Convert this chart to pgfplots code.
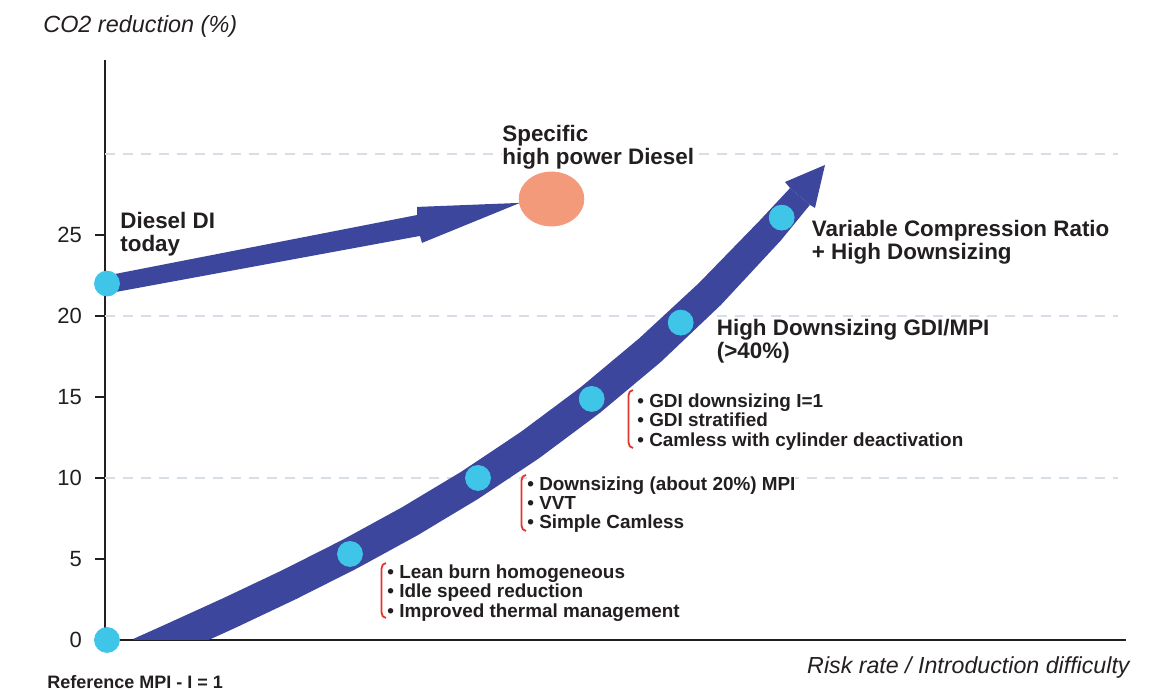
\documentclass[border=0pt]{standalone}
\usepackage{fontspec}
\setmainfont{Liberation Sans}
\usepackage{pgfplots}
\pgfplotsset{compat=1.18}
\definecolor{band}{HTML}{3B469C}
\definecolor{dot}{HTML}{3EC5E8}
\definecolor{orng}{HTML}{F39A7A}
\definecolor{brk}{HTML}{E2352B}
\definecolor{txt}{HTML}{231F20}
\definecolor{grd}{HTML}{D7DEE8}
\begin{document}
\begin{tikzpicture}[
  bignode/.style={anchor=north west, align=left, inner sep=0pt, text=txt,
    font=\fontsize{11.2}{11.5}\bfseries\selectfont},
  bulnode/.style={anchor=north west, align=left, inner sep=0pt, text=txt, fill=white,
    font=\fontsize{9.45}{9.6}\bfseries\selectfont}]
\useasboundingbox (-52.5pt,-25pt) rectangle (529.5pt,320pt);
\begin{axis}[at={(0pt,0pt)}, anchor=south west,
  width=510.5pt, height=290pt, scale only axis,
  xmin=105, xmax=1126, ymin=0, ymax=35.8,
  axis lines=left, axis line style={-, line width=1.4pt, draw=txt},
  xtick=\empty, ytick={0,5,10,15,20,25},
  tick align=outside, major tick length=5pt,
  tick style={line width=1.2pt, draw=txt},
  yticklabel style={font=\fontsize{11}{13}\selectfont, text=txt, xshift=-3pt},
  /pgf/number format/assume math mode=true,
  clip=true,
]
% dashed grid lines
\addplot[grd, line width=0.8pt, dash pattern=on 5pt off 4pt] coordinates {(105,10) (1118,10)};
\addplot[grd, line width=0.8pt, dash pattern=on 5pt off 4pt] coordinates {(105,20) (1118,20)};
\addplot[grd, line width=0.8pt, dash pattern=on 5pt off 4pt] coordinates {(105,30) (1118,30)};

% main curved band: upper edge forward, lower edge back
\addplot[fill=band, draw=none] coordinates {
 (133.47,0.071) (163.44,0.901) (223.28,2.582) (282.99,4.328) (342.58,6.185)
 (402.06,8.192) (461.45,10.395) (520.78,12.840) (580.09,15.570) (639.40,18.629)
 (699.08,22.042) (759.22,25.857) (790.09,27.896)
 (809.91,26.857) (780.78,24.659) (720.92,20.684) (660.60,17.150) (599.91,14.019)
 (539.22,11.225) (478.55,8.726) (417.94,6.477) (357.42,4.434) (297.01,2.553)
 (236.72,0.790) (176.56,-0.901) (146.53,-1.733)};
% arrow head of main band
\addplot[fill=band, draw=none] coordinates {
 (790.09,27.896) (785,28.27) (825,29.32) (815,26.67) (809.91,26.857)};

% Diesel arrow
\addplot[fill=band, draw=none] coordinates {
 (100,22.41) (417,26.23) (417,26.73) (520,26.98) (422,24.51) (420,24.94) (100,21.30)};

% specific high power Diesel (ellipse)
\addplot[only marks, mark=*, mark size=13.5pt,
  mark options={fill=orng, draw=orng, xscale=1.2}] coordinates {(551.5,27.22)};

% technology points
\addplot[only marks, mark=*, mark size=6.25pt, mark options={fill=dot, draw=dot}]
 coordinates {(107,0) (350,5.31) (478,10.0) (591.7,14.88) (680.7,19.59) (781.7,26.07) (107,22.0)};

% labels
\node[bignode] at (axis cs:120,26.40) {Diesel DI\\today};
\node[bignode, fill=white] at (axis cs:502,31.79) {Specific\\high power Diesel};
\node[bignode] at (axis cs:811.5,25.96) {Variable Compression Ratio\\+ High Downsizing};
\node[bignode] at (axis cs:716.5,19.80) {High Downsizing GDI/MPI\\(>40\%)};

\node[bulnode] at (axis cs:387,4.65) {• Lean burn homogeneous\\• Idle speed reduction\\• Improved thermal management};
\node[bulnode] at (axis cs:527,10.12) {• Downsizing (about 20\%) MPI\\• VVT\\• Simple Camless};
\node[bulnode] at (axis cs:637,15.21) {• GDI downsizing I=1\\• GDI stratified\\• Camless with cylinder deactivation};

% red brackets
\draw[brk, line width=0.9pt] (axis cs:386,4.75) to[out=180,in=90] (axis cs:381.5,4.40)
  -- (axis cs:381.5,1.71) to[out=-90,in=180] (axis cs:386,1.36);
\draw[brk, line width=0.9pt] (axis cs:526,10.19) to[out=180,in=90] (axis cs:521.5,9.84)
  -- (axis cs:521.5,7.08) to[out=-90,in=180] (axis cs:526,6.73);
\draw[brk, line width=0.9pt] (axis cs:633,15.43) to[out=180,in=90] (axis cs:628.5,15.08)
  -- (axis cs:628.5,12.20) to[out=-90,in=180] (axis cs:633,11.85);
\end{axis}
\node[anchor=north west, inner sep=0pt, text=txt, font=\fontsize{11.7}{13}\itshape\selectfont]
  at (-31pt,312.5pt) {CO2 reduction (\%)};
\node[anchor=north east, inner sep=0pt, text=txt, font=\fontsize{11.6}{13}\itshape\selectfont]
  at (512.5pt,-8pt) {Risk rate / Introduction difficulty};
\node[anchor=north west, inner sep=0pt, text=txt, font=\fontsize{9}{11}\bfseries\selectfont]
  at (-29pt,-17.5pt) {Reference MPI - I = 1};
\end{tikzpicture}
\end{document}
